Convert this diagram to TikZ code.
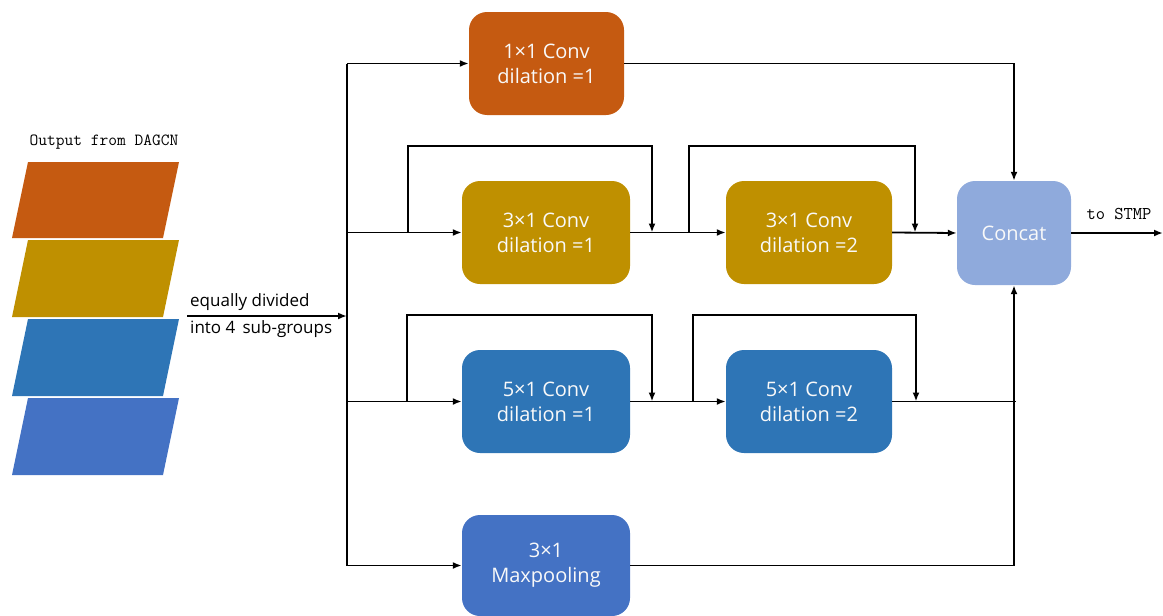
\documentclass[tikz,border=0pt]{standalone}
\usepackage{fontspec}
\setmainfont{Open Sans}
\usetikzlibrary{arrows.meta}
\definecolor{corange}{HTML}{C55A11}
\definecolor{cgold}{HTML}{BF9000}
\definecolor{cblue}{HTML}{2E75B6}
\definecolor{cblueb}{HTML}{4472C4}
\definecolor{clight}{HTML}{8FAADC}
\tikzset{
  blk/.style={rounded corners=18pt, minimum height=103pt, inner sep=0pt, align=center,
    text=white!95!gray, font=\fontsize{20}{25}\selectfont},
  arr/.style={line width=1.8pt, -{Latex[length=9pt,width=7pt]}},
  ln/.style={line width=1.8pt},
  lbl/.style={font=\fontsize{17}{20}\selectfont, inner sep=0pt},
  mono/.style={font=\ttfamily\fontsize{17}{20}\selectfont, inner sep=0pt},
}
\begin{document}
\begin{tikzpicture}[x=1pt,y=-1pt]
\useasboundingbox (0,0) rectangle (1163,616);
% input stack
\fill[corange] (12,238) -- (28,162) -- (179,162) -- (163,238) -- cycle;
\fill[cgold] (12,317) -- (28,240) -- (179,240) -- (163,317) -- cycle;
\fill[cblue] (12,396) -- (28,319) -- (179,319) -- (163,396) -- cycle;
\fill[cblueb] (12,475) -- (28,398) -- (179,398) -- (163,475) -- cycle;
\node[mono] (title) at (104,142) {Output from DAGCN};
% boxes
\node[blk, fill=corange, minimum width=155pt] (b1) at (546.5,63.5) {1×1 Conv\\dilation =1};
\node[blk, fill=cgold, minimum width=168pt] (b2) at (546,232.5) {3×1 Conv\\dilation =1};
\node[blk, fill=cgold, minimum width=166pt] (b3) at (809,232.5) {3×1 Conv\\dilation =2};
\node[blk, fill=cblue, minimum width=168pt] (b4) at (546,401.5) {5×1 Conv\\dilation =1};
\node[blk, fill=cblue, minimum width=166pt] (b5) at (809,401.5) {5×1 Conv\\dilation =2};
\node[blk, fill=cblueb, minimum width=168pt, minimum height=101pt] (b6) at (546,565.5) {3×1\\Maxpooling};
\node[blk, fill=clight, minimum width=114pt, minimum height=104pt] (cc) at (1014,233) {Concat};
% input arrow
\coordinate (src) at (187,316);
\coordinate (tin) at (347,316);
\draw[arr] (src) -- (tin);
\node[lbl, anchor=west] (t1) at (190,302) {equally divided};
\node[lbl, anchor=west] (t2) at (190,329) {into 4\, sub-groups};
% trunk
\coordinate (k1) at (347,63.5);
\coordinate (k2) at (347,232.5);
\coordinate (k3) at (347,401.5);
\coordinate (k4) at (347,565.5);
\draw[ln] (k1) -- (k4);
\draw[arr] (k1) -- (b1.west);
\draw[arr] (k2) -- (b2.west);
\draw[arr] (k3) -- (b4.west);
\draw[arr] (k4) -- (b6.west);
% row 2
\coordinate (s2a) at (408,232.5);
\coordinate (e2a) at (652,232.5);
\coordinate (s2b) at (689,232.5);
\coordinate (e2b) at (915,232.5);
\draw[arr] (s2a) -- (408,146) -| (e2a);
\draw[arr] (b2.east) -- (b3.west);
\draw[arr] (s2b) -- (689,146) -| (e2b);
\draw[arr] (b3.east) -- (cc.west);
% row 3
\coordinate (s3a) at (407,401.5);
\coordinate (e3a) at (652,401.5);
\coordinate (s3b) at (693,401.5);
\coordinate (e3b) at (916,401.5);
\coordinate (j3) at (1016,401.5);
\draw[arr] (s3a) -- (407,315) -| (e3a);
\draw[arr] (b4.east) -- (b5.west);
\draw[arr] (s3b) -- (693,315) -| (e3b);
\draw[ln] (b5.east) -- (j3);
% to concat
\draw[arr] (b1.east) -| (cc.north);
\draw[arr] (b6.east) -| (cc.south);
% output
\coordinate (out) at (1163,233);
\draw[arr] (cc.east) -- (out);
\node[mono, font=\ttfamily\fontsize{18}{21}\selectfont] (ts) at (1119,214) {to STMP};
\end{tikzpicture}
\end{document}
